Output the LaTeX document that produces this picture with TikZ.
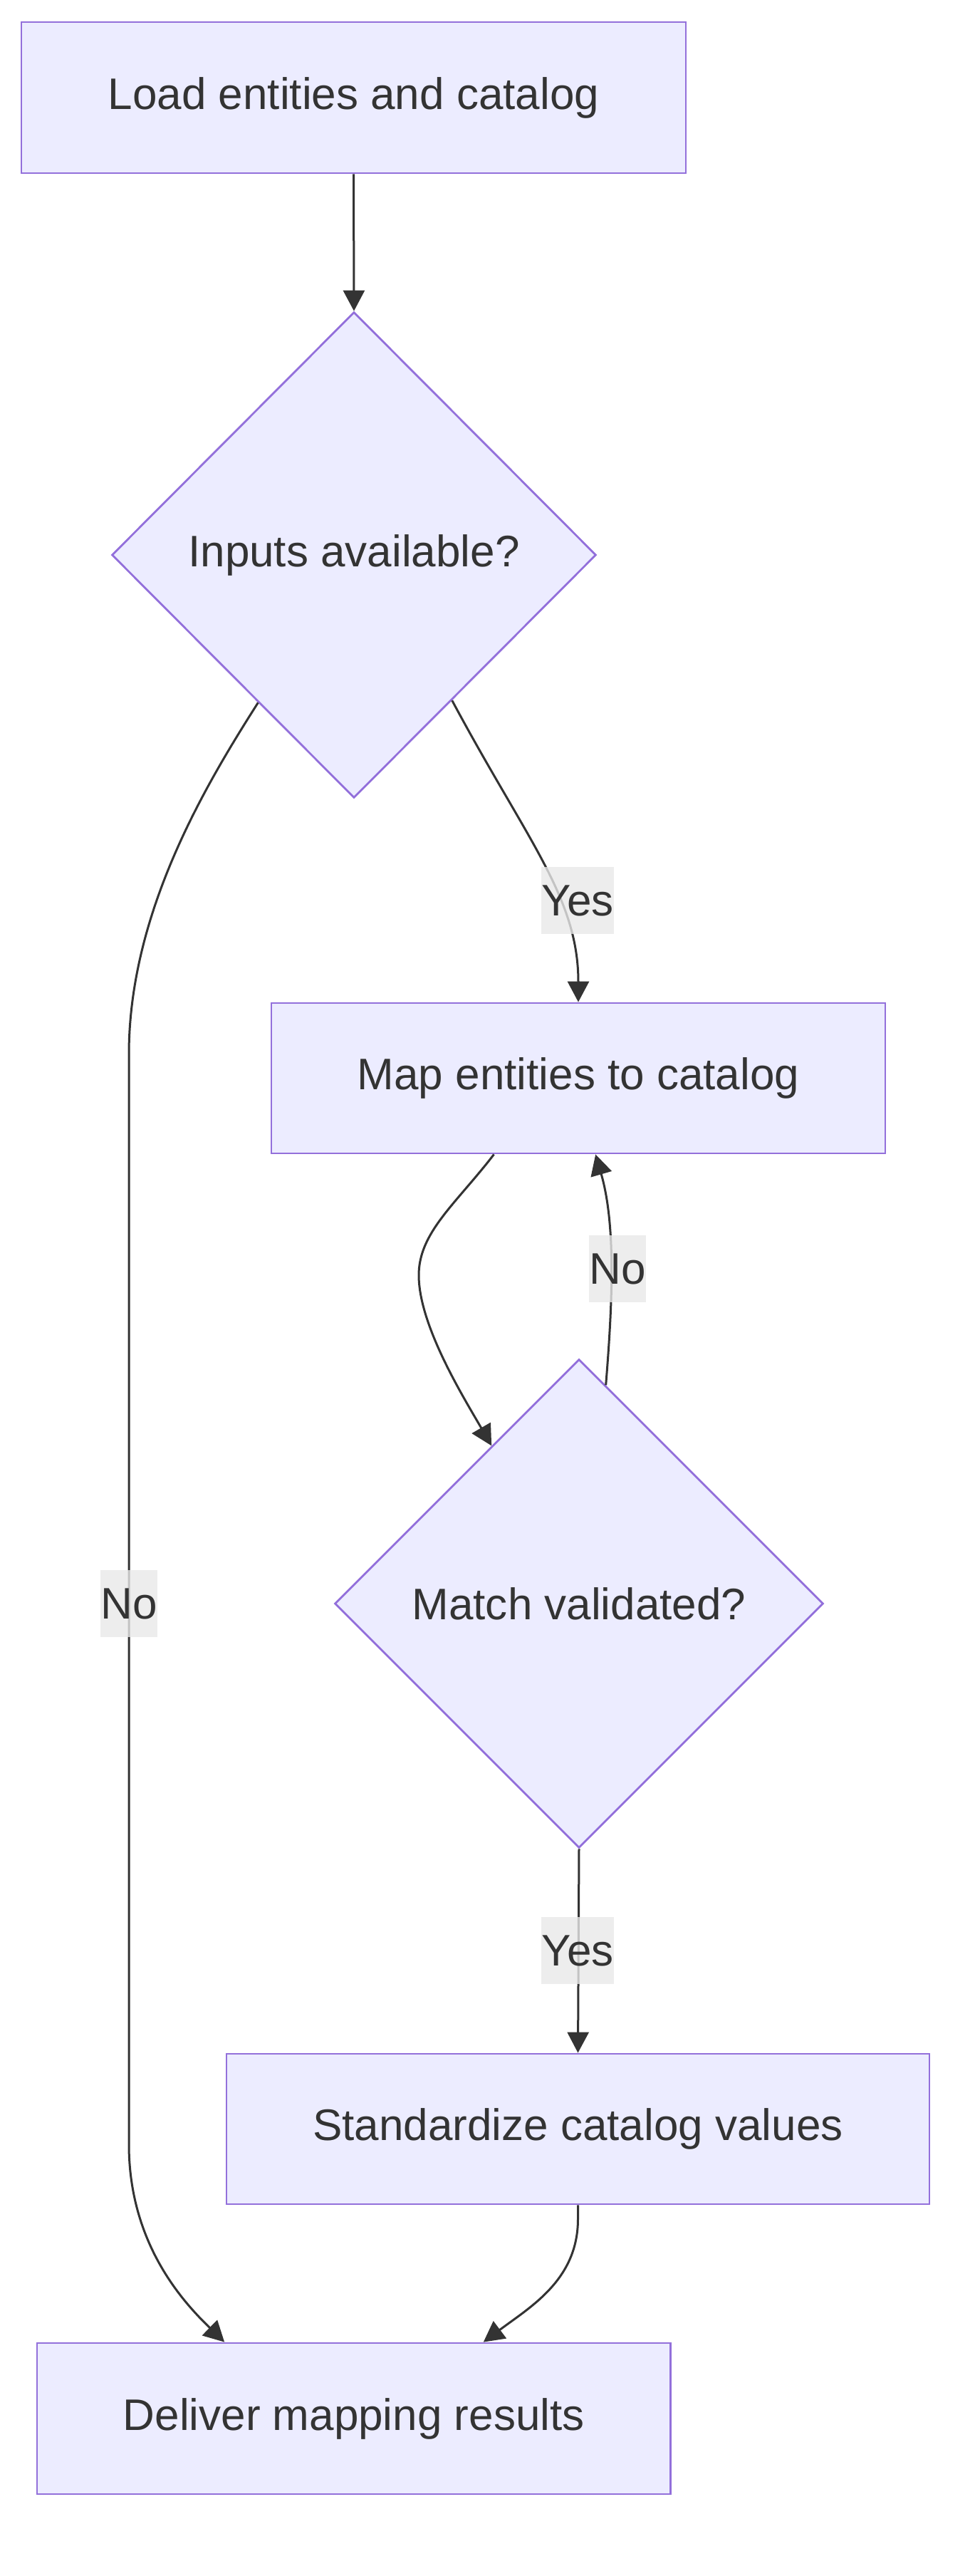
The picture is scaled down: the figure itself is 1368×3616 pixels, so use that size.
\documentclass[tikz,border=0pt]{standalone}
\usepackage{fontspec}
\setmainfont{Liberation Sans}
\usetikzlibrary{shapes.geometric,arrows.meta,calc}
\definecolor{nodefill}{HTML}{ECECFF}
\definecolor{nodeline}{HTML}{9370DB}
\definecolor{edgecol}{HTML}{333333}
\definecolor{labelbg}{HTML}{E8E8E8}
\begin{document}
\begin{tikzpicture}[x=1pt,y=-1pt,
  every node/.style={font=\fontsize{62}{74}\selectfont, text=edgecol},
  procbox/.style={draw=nodeline, fill=nodefill, line width=2.8pt, rectangle, inner sep=0pt},
  decbox/.style={draw=nodeline, fill=nodefill, line width=2.8pt, diamond, inner sep=0pt},
  edge/.style={draw=edgecol, line width=3pt, -{Triangle[length=29pt,width=30pt]}},
  elabel/.style={fill=labelbg, fill opacity=0.8, text opacity=1, inner xsep=0pt, inner ysep=0pt, minimum height=94pt}
]
\useasboundingbox (0,0) rectangle (1368,3616);

\node[procbox, minimum width=933pt, minimum height=212pt] (b1) at (496.5,137) {Load entities and catalog};
\node[decbox, minimum width=680pt, minimum height=682pt] (d1) at (497,779) {Inputs available?};
\node[procbox, minimum width=862pt, minimum height=211pt] (b2) at (812,1513.5) {Map entities to catalog};
\node[decbox, minimum width=686pt, minimum height=686pt] (d2) at (813,2251) {Match validated?};
\node[procbox, minimum width=987pt, minimum height=211pt] (b3) at (811.5,2988.5) {Standardize catalog values};
\node[procbox, minimum width=889.5pt, minimum height=212pt] (b4) at (496.75,3395) {Deliver mapping results};

% edges
\draw[edge] (b1.south) -- (d1.north);
\draw[edge] (d1.-56.8) .. controls (740,1180) and (812,1260) .. (b2.north);
\draw[edge] (d1.-123.6) .. controls (290,1100) and (181,1280) .. (181,1480)
  -- (181,3010) .. controls (181,3150) and (258,3232) .. ($(b4.north west)!0.2965!(b4.north east)$);
\draw[edge] ($(b2.south west)!0.363!(b2.south east)$) .. controls (640,1690) and (588,1730) .. (588,1790)
  .. controls (588,1860) and (650,1960) .. (d2.119.8);
\draw[edge] (d2.83.5) .. controls (860,1830) and (865,1720) .. ($(b2.south west)!0.528!(b2.south east)$);
\draw[edge] (d2.south) -- (b3.north);
\draw[edge] (b3.south) -- (811.5,3115) .. controls (811.5,3200) and (745,3238) .. ($(b4.north west)!0.704!(b4.north east)$);

% labels
\node[elabel] (l1) at (811,1264) {Yes};
\node[elabel] (l2) at (867,1781) {No};
\node[elabel] (l3) at (181,2251) {No};
\node[elabel] (l4) at (811,2738) {Yes};
\end{tikzpicture}
\end{document}
